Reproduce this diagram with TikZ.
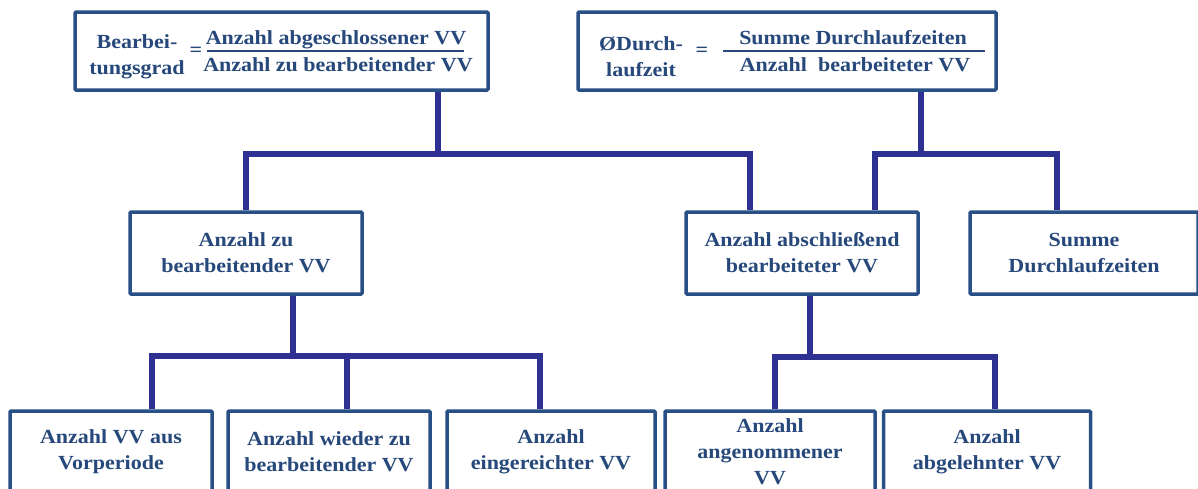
\documentclass[tikz,border=0pt]{standalone}
\usepackage{fontspec}
\newfontfamily\lblfont{Liberation Serif}[FakeStretch=1.1]
\usetikzlibrary{calc}
\definecolor{boxblue}{RGB}{40,80,135}
\definecolor{linkblue}{RGB}{46,49,146}
\definecolor{txtblue}{RGB}{38,72,122}
\tikzset{
  box/.style={draw=boxblue, line width=3.5pt, rounded corners=1pt, fill=white,
    inner sep=0pt, align=center, text=txtblue,
    font=\lblfont\bfseries\fontsize{20}{26}\selectfont},
  lbl/.style={inner sep=0pt, align=center, text=txtblue,
    font=\lblfont\bfseries\fontsize{20}{26}\selectfont},
  link/.style={draw=linkblue, line width=6pt, line join=miter},
  fracbar/.style={draw=txtblue, line width=1.6pt}
}
\begin{document}
\begin{tikzpicture}[x=1pt,y=-1pt]
\fill[white] (0,0) rectangle (1198,488);
\useasboundingbox (0,0) rectangle (1198,488);

% formula boxes
\node[box, minimum width=413pt, minimum height=78pt] (tl) at (281.5,51) {};
\node[lbl] (tlname) at (137,57) {Bearbei-\\tungsgrad};
\node[lbl] (tleq) at (196,52) {=};
\node[lbl, anchor=base] (tlnum) at (336,44) {Anzahl abgeschlossener VV};
\node[lbl, anchor=base] (tlden) at (338,71) {Anzahl zu bearbeitender VV};
\draw[fracbar] (207,51) -- (464,51);

\node[box, minimum width=418pt, minimum height=78pt] (tr) at (787,51) {};
\node[lbl] (trname) at (641,57) {ØDurch-\\laufzeit};
\node[lbl] (treq) at (702,52) {=};
\node[lbl, anchor=base] (trnum) at (853,44) {Summe Durchlaufzeiten};
\node[lbl, anchor=base] (trden) at (855,71) {Anzahl\ \ bearbeiteter VV};
\draw[fracbar] (723,51) -- (985,51);

% middle row
\node[box, minimum width=232pt, minimum height=82pt] (m1) at (246,253) {Anzahl zu\\bearbeitender VV};
\node[box, minimum width=232pt, minimum height=82pt] (m2) at (802,253) {Anzahl abschließend\\bearbeiteter VV};
\node[box, minimum width=228pt, minimum height=82pt] (s) at (1084,253) {Summe\\Durchlaufzeiten};

% bottom row
\node[box, minimum width=202pt, minimum height=82pt] (b1) at (111,452) {Anzahl VV aus\\Vorperiode};
\node[box, minimum width=202pt, minimum height=82pt] (b2) at (329,452) {Anzahl wieder zu\\bearbeitender VV};
\node[box, minimum width=208pt, minimum height=82pt] (b3) at (551,452) {Anzahl\\eingereichter VV};
\node[box, minimum width=210pt, minimum height=82pt] (b4) at (770,452) {Anzahl\\angenommener\\VV};
\node[box, minimum width=207pt, minimum height=82pt] (b5) at (987,452) {Anzahl\\abgelehnter VV};

% junction points on the buses
\coordinate (j1) at (438,154);
\coordinate (d2) at (750,154);
\coordinate (j2) at (921,154);
\coordinate (r1) at (875,154);
\coordinate (r2) at (1057,154);
\coordinate (j3) at (293,356);
\coordinate (a1) at (152,356);
\coordinate (a2) at (347,356);
\coordinate (a3) at (540,356);
\coordinate (j4) at (810,357);
\coordinate (c1) at (775,357);
\coordinate (c2) at (995,357);

% connectors
\draw[link] (tl.south -| j1) -- (j1);
\draw[link] (m1.north) |- (d2) -- (m2.north -| d2);
\draw[link] (tr.south -| j2) -- (j2);
\draw[link] (m2.north -| r1) -- (r1) -- (r2) -- (s.north -| r2);
\draw[link] (m1.south -| j3) -- (j3);
\draw[link] (b1.north -| a1) -- (a1) -- (a3) -- (b3.north -| a3);
\draw[link] (a2) -- (b2.north -| a2);
\draw[link] (m2.south -| j4) -- (j4);
\draw[link] (b4.north -| c1) -- (c1) -- (c2) -- (b5.north -| c2);
\end{tikzpicture}
\end{document}
